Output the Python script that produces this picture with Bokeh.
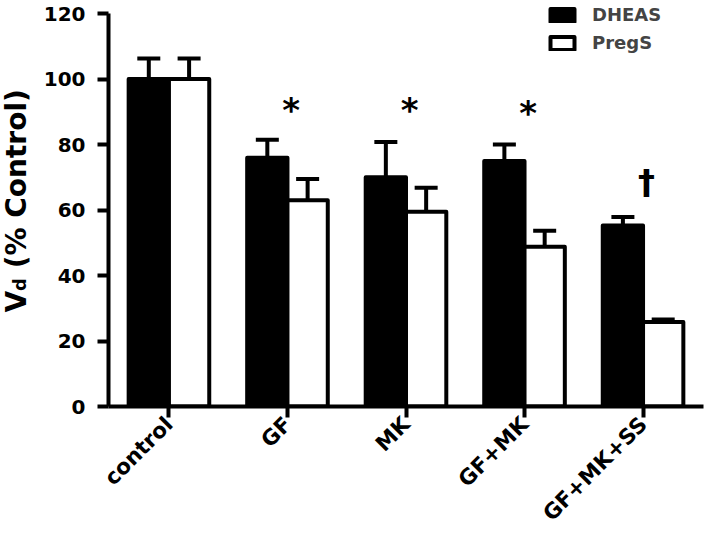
import numpy as np
from bokeh.plotting import figure
from bokeh.layouts import row
from bokeh.models import (ColumnDataSource, Whisker, TeeHead, Legend, LegendItem,
                          FixedTicker, Range1d)
from bokeh.embed import file_html
from bokeh.resources import INLINE
from bokeh.core.properties import value

# ---- data ----
categories = ["control", "GF", "MK", "GF+MK", "GF+MK+SS"]
dheas = [100, 76, 70, 75, 55.3]
dheas_err = [6.3, 5.5, 10.8, 5.0, 2.6]
pregs = [100, 63, 59.5, 48.8, 25.8]
pregs_err = [6.3, 6.5, 7.3, 4.9, 0.8]
y_ticks = [0, 20, 40, 60, 80, 100, 120]
star_cats = [1, 2, 3]
star_y = [90.5, 90.5, 89.5]
dagger_cats = [4]
dagger_y = [68.5]

FONT = "DejaVu Sans"
H = 540
BOTTOM = 134
idx = np.arange(len(categories))
off = 0.17
bw = 0.34

yr = Range1d(0, 124)

# ---- y-axis title panel (V with subscript d) ----
lab = figure(width=40, height=H, output_backend="svg", toolbar_location=None,
             x_range=Range1d(0, 40), y_range=yr,
             x_axis_location=None, y_axis_location=None,
             min_border_left=0, min_border_right=0, min_border_top=0,
             min_border_bottom=BOTTOM)
lab.outline_line_color = None
lab.xgrid.visible = False
lab.ygrid.visible = False
title_src = ColumnDataSource(dict(x=[16, 18.5, 16], y=[28.7, 35.3, 42.2],
                                  t=["V", "d", "(% Control)"],
                                  s=["28px", "18px", "28px"]))
lab.text(x="x", y="y", text="t", source=title_src, angle=np.pi / 2,
         text_font=value(FONT), text_font_style="bold", text_font_size="s",
         text_align="left", text_baseline="alphabetic", text_color="black")

# ---- main plot ----
p = figure(width=665, height=H, output_backend="svg", toolbar_location=None,
           x_range=Range1d(-0.51, 4.51), y_range=yr,
           min_border_left=68, min_border_right=2, min_border_top=0,
           min_border_bottom=BOTTOM)
p.outline_line_color = None
p.xgrid.visible = False
p.ygrid.visible = False

src_d = ColumnDataSource(dict(x=idx - off, top=dheas,
                              up=np.array(dheas) + np.array(dheas_err),
                              lo=np.array(dheas) - np.array(dheas_err)))
src_p = ColumnDataSource(dict(x=idx + off, top=pregs,
                              up=np.array(pregs) + np.array(pregs_err),
                              lo=np.array(pregs) - np.array(pregs_err)))

r_d = p.vbar(x="x", top="top", width=bw, source=src_d, fill_color="black",
             line_color="black", line_width=4, line_join="round")
r_p = p.vbar(x="x", top="top", width=bw, source=src_p, fill_color="white",
             line_color="black", line_width=4, line_join="round")

for src in (src_d, src_p):
    w = Whisker(source=src, base="x", upper="up", lower="lo",
                line_color="black", line_width=4,
                upper_head=TeeHead(size=23, line_width=4, line_color="black"),
                lower_head=TeeHead(size=23, line_width=4, line_color="black"))
    p.add_layout(w)

# significance markers
src_star = ColumnDataSource(dict(x=np.array(star_cats) + 0.03, y=star_y,
                                 t=["*"] * len(star_cats)))
p.text(x="x", y="y", text="t", source=src_star, text_font=value(FONT),
       text_font_style="bold", text_font_size="34px", text_align="center",
       text_baseline="alphabetic", text_color="black")
src_dag = ColumnDataSource(dict(x=np.array(dagger_cats) + 0.03, y=dagger_y,
                                t=["\u2020"] * len(dagger_cats)))
p.text(x="x", y="y", text="t", source=src_dag, text_font=value(FONT),
       text_font_style="bold", text_font_size="34px", text_align="center",
       text_baseline="alphabetic", text_color="black")

# axes
for ax in (p.xaxis[0], p.yaxis[0]):
    ax.axis_line_width = 4
    ax.axis_line_color = "black"
    ax.major_tick_line_width = 4
    ax.major_tick_line_color = "black"
    ax.major_tick_out = 11
    ax.major_tick_in = 0
    ax.minor_tick_line_color = None
    ax.major_label_text_font = FONT
    ax.major_label_text_font_style = "bold"
    ax.major_label_text_color = "black"

p.yaxis.bounds = (0, 120)
p.yaxis.ticker = FixedTicker(ticks=y_ticks)
p.yaxis.major_label_standoff = 12
p.yaxis.major_label_text_font_size = "20px"
p.xaxis.ticker = FixedTicker(ticks=list(idx))
p.xaxis.major_label_overrides = {int(i): c for i, c in zip(idx, categories)}
p.xaxis.major_label_orientation = np.pi / 4
p.xaxis.major_label_standoff = 3
p.xaxis.major_label_text_font_size = "21.5px"

# legend
legend = Legend(items=[LegendItem(label="DHEAS", renderers=[r_d]),
                       LegendItem(label="PregS", renderers=[r_p])],
                location=(439, 353))
legend.glyph_width = 30
legend.glyph_height = 16
legend.label_height = 16
legend.spacing = 7
legend.padding = 0
legend.margin = 0
legend.label_standoff = 15
legend.border_line_color = None
legend.background_fill_alpha = 0
legend.label_text_font = FONT
legend.label_text_font_style = "bold"
legend.label_text_font_size = "18px"
p.add_layout(legend)

layout = row(lab, p, spacing=0)
open("out.html", "w").write(file_html(layout, INLINE))
